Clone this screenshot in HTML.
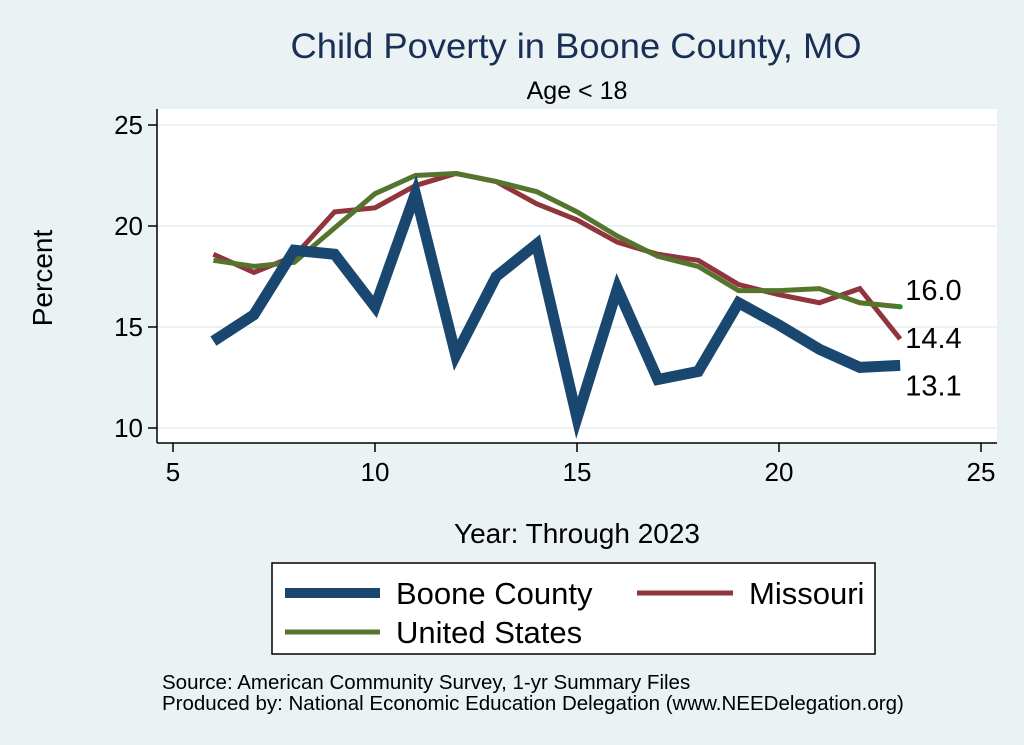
<!DOCTYPE html>
<html><head><meta charset="utf-8"><style>
body{margin:0;background:#eaf2f3;}
svg{display:block;font-family:"Liberation Sans",Arial,sans-serif;}
</style></head><body>
<svg width="1024" height="745">
<rect x="0" y="0" width="1024" height="745" fill="#eaf2f3"/>
<rect x="157" y="109" width="840" height="334" fill="#ffffff"/>
<text x="576" y="58" font-size="35" fill="#1a2f55" text-anchor="middle" textLength="571" lengthAdjust="spacingAndGlyphs">Child Poverty in Boone County, MO</text>
<text x="577" y="99" font-size="25" fill="#000" text-anchor="middle">Age &lt; 18</text>
<g id="grid"></g>
<g id="axes"></g>
<g id="series"></g>
<text x="52" y="278" font-size="28" text-anchor="middle" transform="rotate(-90 52 278)">Percent</text>
<text x="577" y="543" font-size="28" text-anchor="middle">Year: Through 2023</text>
<g>
<rect x="272" y="563" width="603" height="91" fill="#fff" stroke="#000" stroke-width="1.5"/>
<line x1="285" y1="593" x2="380" y2="593" stroke="#1a476f" stroke-width="10"/>
<text x="396" y="604" font-size="31">Boone County</text>
<line x1="637" y1="593" x2="733" y2="593" stroke="#90353b" stroke-width="5"/>
<text x="749" y="604" font-size="31">Missouri</text>
<line x1="285" y1="632" x2="380" y2="632" stroke="#55752f" stroke-width="5"/>
<text x="396" y="643" font-size="31">United States</text>
</g>
<text x="162" y="689" font-size="20.5">Source: American Community Survey, 1-yr Summary Files</text>
<text x="162" y="710" font-size="20.5">Produced by: National Economic Education Delegation (www.NEEDelegation.org)</text>
</svg>
<script>
const years=[6,7,8,9,10,11,12,13,14,15,16,17,18,19,20,21,22,23];
const boone=[14.3,15.6,18.8,18.6,16.0,21.6,13.6,17.5,19.1,10.5,16.9,12.4,12.8,16.2,15.1,13.9,13.0,13.1];
const missouri=[18.6,17.7,18.5,20.7,20.9,22.0,22.6,22.2,21.1,20.3,19.2,18.6,18.3,17.1,16.6,16.2,16.9,14.4];
const us=[18.3,18.0,18.2,19.9,21.6,22.5,22.6,22.2,21.7,20.7,19.5,18.5,18.0,16.8,16.8,16.9,16.2,16.0];
const xTicks=[5,10,15,20,25];
const yTicks=[10,15,20,25];
const NS='http://www.w3.org/2000/svg';
const X=v=>173+(v-5)*40.4;
const Y=v=>428-(v-10)*20.2;
function mk(tag,attrs,parent){const e=document.createElementNS(NS,tag);for(const k in attrs)e.setAttribute(k,attrs[k]);document.getElementById(parent).appendChild(e);return e;}
yTicks.forEach(t=>{
  const g=mk('line',{x1:157,x2:997,y1:Y(t),y2:Y(t),stroke:'#eaf2f3','stroke-width':2},'grid');
  
  
  const tk=mk('line',{x1:148,x2:157,y1:Y(t),y2:Y(t),stroke:'#000','stroke-width':1.5},'axes');
  
  
  const l=mk('text',{x:143,y:Y(t)+9,'font-size':26,'text-anchor':'end'},'axes');
  l.textContent=t;
  
  
});
xTicks.forEach(t=>{
  const tk=mk('line',{x1:X(t),x2:X(t),y1:443,y2:452,stroke:'#000','stroke-width':1.5},'axes');
  
  
  const l=mk('text',{x:X(t),y:481,'font-size':26,'text-anchor':'middle'},'axes');
  l.textContent=t;
  
  
});
const ya=mk('line',{x1:157,x2:157,y1:109,y2:443,stroke:'#000','stroke-width':1.5},'axes');


const xa=mk('line',{x1:157,x2:997,y1:443,y2:443,stroke:'#000','stroke-width':1.5},'axes');


function line(vals,color,w,name){
  const p=mk('polyline',{points:years.map((y,i)=>X(y)+','+Y(vals[i])).join(' '),fill:'none',stroke:color,'stroke-width':w,'stroke-linejoin':'miter'},'series');
  
  
}
line(missouri,'#90353b',5,'missouri-line');
line(us,'#55752f',5,'us-line');
line(boone,'#1a476f',11,'boone-line');
const last=years.length-1;
const d=mk('circle',{cx:X(years[last]),cy:Y(us[last]),r:2.5,fill:'#1a9a1a'},'series');


[[us,-7,'us-end-label'],[missouri,9,'missouri-end-label'],[boone,30,'boone-end-label']].forEach(([s,dy,n])=>{
  const t=mk('text',{x:X(years[last])+5,y:Y(s[last])+dy,'font-size':29},'series');
  t.textContent=s[last].toFixed(1);
  
  
});
</script>
</body></html>
